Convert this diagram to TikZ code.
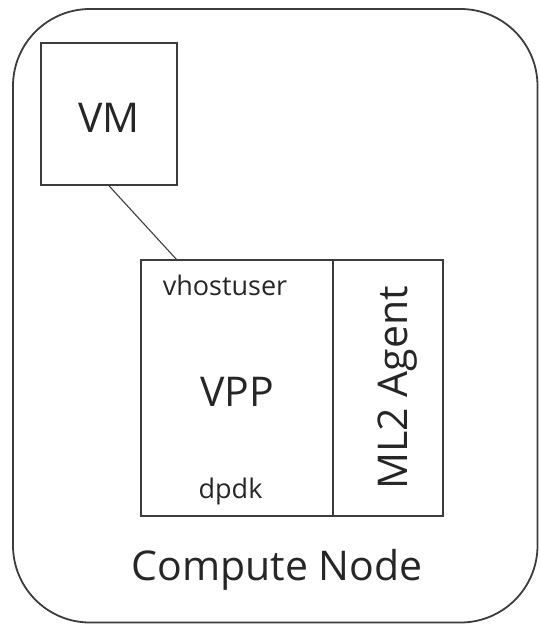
\documentclass[tikz,border=0pt]{standalone}
\usepackage{fontspec}
\setmainfont{Open Sans}
\usepackage{xcolor}
\usepackage{tikz}
\usetikzlibrary{positioning}
\definecolor{linegray}{HTML}{3C3C3C}
\definecolor{textgray}{HTML}{262626}

\begin{document}
\begin{tikzpicture}[x=1pt,y=-1pt]
\tikzset{box/.style = {shape=rectangle,draw=linegray,line width=1.6pt,inner sep=0pt}}
\tikzset{big/.style = {text=textgray,inner sep=0pt,font=\fontsize{41}{46}\selectfont}}
\tikzset{small/.style = {text=textgray,inner sep=0pt,font=\fontsize{27}{31}\selectfont}}
\tikzset{wire/.style = {draw=linegray,line width=1.1pt}}
\useasboundingbox (0,0) rectangle (539,624);
% outer compute node frame
\node[box,line width=1.8pt,rounded corners=77pt,minimum width=524.5pt,minimum height=613.5pt] (host) at (275.25,315.75) {};
\node[box,minimum width=136pt,minimum height=142pt] (vm) at (109,114) {};
\node[box,minimum width=192pt,minimum height=256pt] (vpp) at (237,388) {};
\node[box,minimum width=110pt,minimum height=256pt] (agent) at (388,388) {};
\coordinate (port) at (177,260);
% labels
\node[big,anchor=base] (vmtxt) at (109,132) {VM};
\node[big,anchor=base] (vpptxt) at (237,406) {VPP};
\node[small,anchor=base] (vhost) at (225,295) {vhostuser};
\node[small,anchor=base] (dpdk) at (230.5,498) {dpdk};
\node[big,anchor=base,rotate=90] (agenttxt) at (407,388) {ML2 Agent};
\node[big,anchor=base] (hosttxt) at (277,580) {Compute Node};
\draw[wire] (vm.south) -- (port);
\end{tikzpicture}
\end{document}
